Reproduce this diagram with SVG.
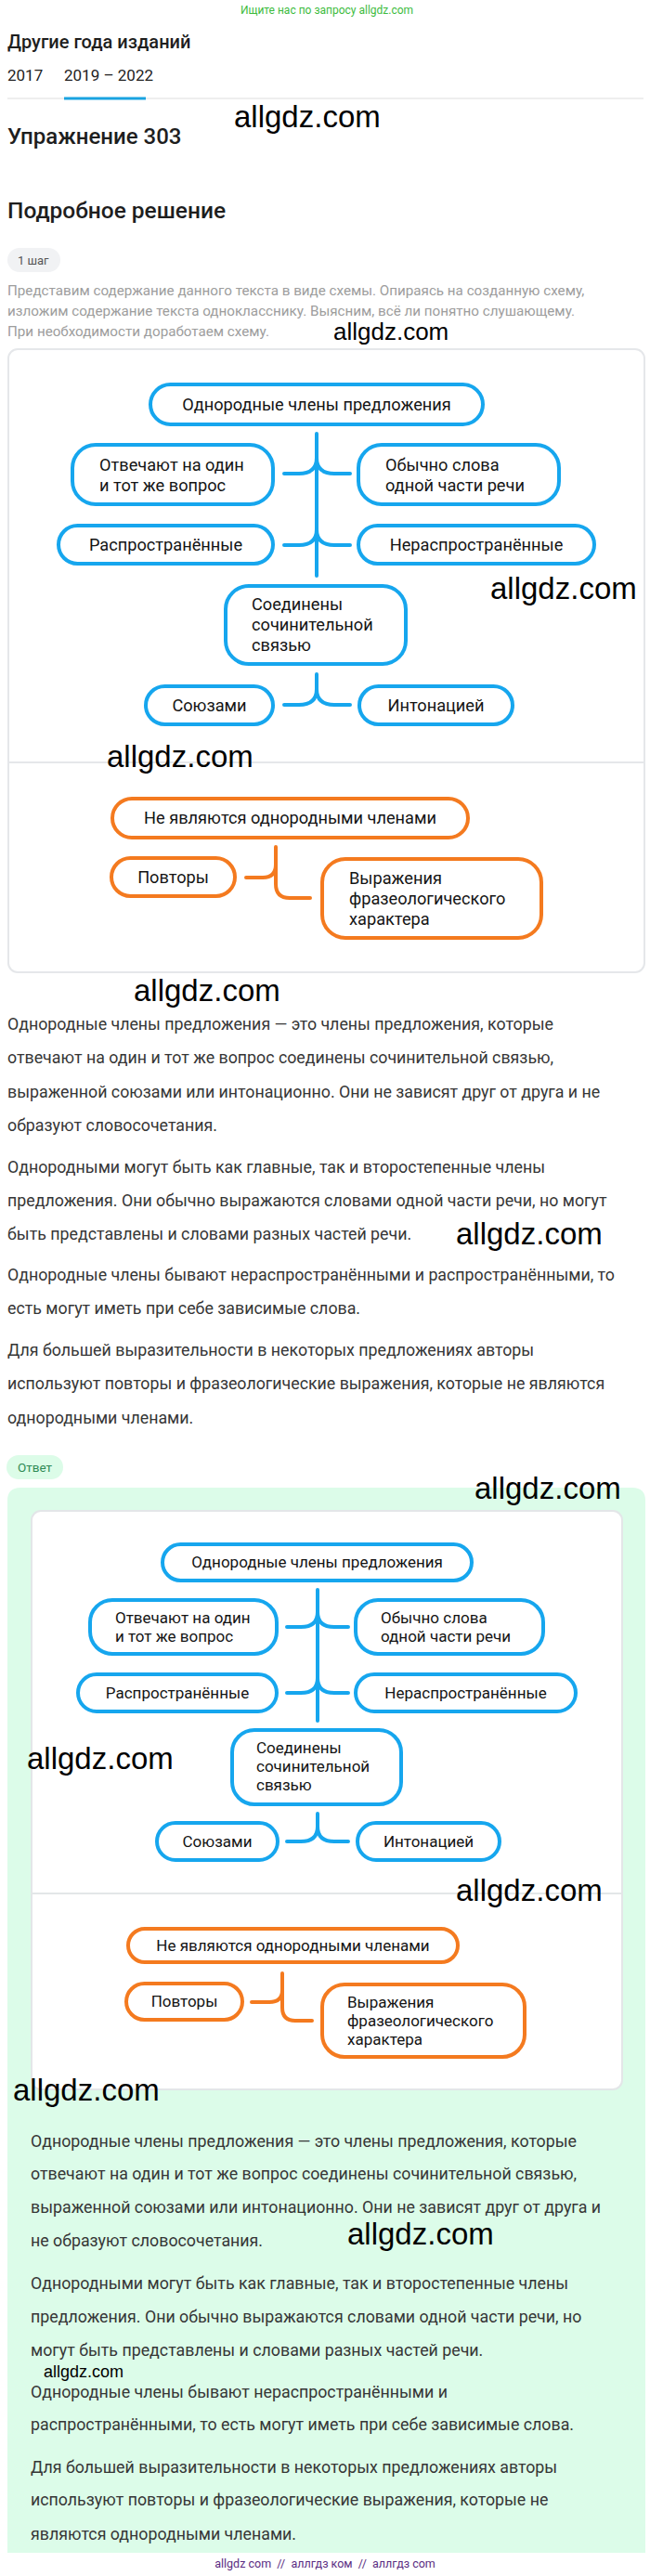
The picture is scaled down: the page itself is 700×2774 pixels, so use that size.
<svg xmlns="http://www.w3.org/2000/svg" width="700" height="2774" viewBox="0 0 700 2774">
<style>
  text{font-family:Roboto,"Noto Sans",sans-serif}
  .wm{font-family:"Liberation Sans",Arial,sans-serif;fill:#000}
  .h{fill:#1e1e1e;font-weight:500}
  .nb{fill:#fff;stroke:#16a6ee;stroke-width:4}
  .no{fill:#fff;stroke:#f47a1f;stroke-width:4}
  .cb{fill:none;stroke:#16a6ee;stroke-width:4;stroke-linecap:round}
  .co{fill:none;stroke:#f47a1f;stroke-width:4;stroke-linecap:round}
  .t1{font-size:18.2px;fill:#141414}
  .t2{font-size:17px;fill:#141414}
  .c{text-anchor:middle}
  .p{font-size:17.8px;fill:#363636}
  .g{font-size:15.2px;fill:#9d9d9d}
</style>
<rect width="700" height="2774" fill="#fff"/>

<!-- header -->
<text x="352" y="15" class="c" font-size="12" fill="#3dbb3d">Ищите нас по запросу allgdz.com</text>
<text x="8" y="52" class="h" font-size="20">Другие года изданий</text>
<text x="8" y="87" font-size="17" fill="#222">2017</text>
<text x="69" y="87" font-size="17" fill="#222">2019 – 2022</text>
<line x1="8" y1="106" x2="693" y2="106" stroke="#e8e8e8" stroke-width="1.5"/>
<rect x="69" y="104.5" width="88" height="3" fill="#1aa3e0"/>
<text x="8" y="155" class="h" font-size="24">Упражнение 303</text>
<text x="252" y="137" class="wm" font-size="33">allgdz.com</text>
<text x="8" y="235" class="h" font-size="24.5">Подробное решение</text>
<rect x="8" y="267" width="57" height="26" rx="13" fill="#f1f2f4"/>
<text x="19" y="285" font-size="13" fill="#555">1 шаг</text>
<text x="8" y="318" class="g">Представим содержание данного текста в виде схемы. Опираясь на созданную схему,</text>
<text x="8" y="340" class="g">изложим содержание текста однокласснику. Выясним, всё ли понятно слушающему.</text>
<text x="8" y="362" class="g">При необходимости доработаем схему.</text>
<text x="359" y="366" class="wm" font-size="26">allgdz.com</text>

<!-- diagram 1 -->
<rect x="9" y="376" width="685" height="671" rx="10" fill="#fff" stroke="#e5e7ea" stroke-width="2"/>
<line x1="9" y1="821" x2="694" y2="821" stroke="#e5e7ea" stroke-width="2"/>
<g id="connectors1">
  <path class="cb" d="M341,467 V620"/>
  <path class="cb" d="M306,510 H322 Q341,510 341,493 M377,510 H360 Q341,510 341,493"/>
  <path class="cb" d="M306,587 H322 Q341,587 341,570 M377,587 H360 Q341,587 341,570"/>
  <path class="cb" d="M341,726 V742 Q341,759 322,759 H306 M341,742 Q341,759 360,759 H377"/>
  <path class="co" d="M297,912 V931 Q297,945 283,945 H265 M297,931 V952 Q297,967 312,967 H334"/>
</g>
<g id="d1-top"><rect class="nb" x="162" y="414" width="358" height="43" rx="21.5"/><text class="t1 c" x="341" y="442">Однородные члены предложения</text></g>
<g id="d1-question"><rect class="nb" x="78" y="479" width="216" height="64" rx="25"/><text class="t1" x="107" y="507">Отвечают на один</text><text class="t1" x="107" y="529">и тот же вопрос</text></g>
<g id="d1-part"><rect class="nb" x="386" y="479" width="216" height="64" rx="25"/><text class="t1" x="415" y="507">Обычно слова</text><text class="t1" x="415" y="529">одной части речи</text></g>
<g id="d1-spread"><rect class="nb" x="63" y="566" width="231" height="41" rx="20.5"/><text class="t1 c" x="178.5" y="593">Распространённые</text></g>
<g id="d1-unspread"><rect class="nb" x="386" y="566" width="254" height="41" rx="20.5"/><text class="t1 c" x="513" y="593">Нераспространённые</text></g>
<g id="d1-joined"><rect class="nb" x="243" y="631" width="194" height="84" rx="25"/><text class="t1" x="271" y="657">Соединены</text><text class="t1" x="271" y="679">сочинительной</text><text class="t1" x="271" y="701">связью</text></g>
<g id="d1-unions"><rect class="nb" x="157" y="739" width="137" height="41" rx="20.5"/><text class="t1 c" x="225.5" y="766">Союзами</text></g>
<g id="d1-intonation"><rect class="nb" x="387" y="739" width="165" height="41" rx="20.5"/><text class="t1 c" x="469.5" y="766">Интонацией</text></g>
<g id="d1-not"><rect class="no" x="121" y="860" width="383" height="42" rx="21"/><text class="t1 c" x="312.5" y="887">Не являются однородными членами</text></g>
<g id="d1-repeat"><rect class="no" x="120" y="924" width="133" height="41" rx="20.5"/><text class="t1 c" x="186.5" y="951">Повторы</text></g>
<g id="d1-phrase"><rect class="no" x="347" y="925" width="236" height="85" rx="25"/><text class="t1" x="376" y="952">Выражения</text><text class="t1" x="376" y="974">фразеологического</text><text class="t1" x="376" y="996">характера</text></g>
<text x="528" y="645" class="wm" font-size="33">allgdz.com</text>
<text x="115" y="826" class="wm" font-size="33">allgdz.com</text>

<!-- text 1 -->
<text x="144" y="1078" class="wm" font-size="33">allgdz.com</text>
<text x="8" y="1109" class="p">Однородные члены предложения — это члены предложения, которые</text>
<text x="8" y="1145" class="p">отвечают на один и тот же вопрос соединены сочинительной связью,</text>
<text x="8" y="1182" class="p">выраженной союзами или интонационно. Они не зависят друг от друга и не</text>
<text x="8" y="1218" class="p">образуют словосочетания.</text>
<text x="8" y="1263" class="p">Однородными могут быть как главные, так и второстепенные члены</text>
<text x="8" y="1299" class="p">предложения. Они обычно выражаются словами одной части речи, но могут</text>
<text x="8" y="1335" class="p">быть представлены и словами разных частей речи.</text>
<text x="491" y="1340" class="wm" font-size="33">allgdz.com</text>
<text x="8" y="1379" class="p">Однородные члены бывают нераспространёнными и распространёнными, то</text>
<text x="8" y="1415" class="p">есть могут иметь при себе зависимые слова.</text>
<text x="8" y="1460" class="p">Для большей выразительности в некоторых предложениях авторы</text>
<text x="8" y="1496" class="p">используют повторы и фразеологические выражения, которые не являются</text>
<text x="8" y="1533" class="p">однородными членами.</text>

<!-- answer -->
<rect x="7" y="1567" width="61" height="26" rx="13" fill="#dcfce8"/>
<text x="19" y="1585" font-size="13.5" fill="#2f8a55">Ответ</text>
<path d="M8,1616 Q8,1602 22,1602 H681 Q695,1602 695,1616 V2749 H8 Z" fill="#dcfce9"/>
<rect x="34" y="1627" width="636" height="623" rx="10" fill="#fff" stroke="#e3e6e8" stroke-width="2"/>
<line x1="34" y1="2039" x2="670" y2="2039" stroke="#e3e6e8" stroke-width="2"/>
<g id="connectors2">
  <path class="cb" d="M342,1712 V1853"/>
  <path class="cb" d="M309,1752 H324 Q342,1752 342,1736 M375,1752 H360 Q342,1752 342,1736"/>
  <path class="cb" d="M309,1823 H324 Q342,1823 342,1807 M375,1823 H360 Q342,1823 342,1807"/>
  <path class="cb" d="M342,1953 V1967 Q342,1983 324,1983 H309 M342,1967 Q342,1983 360,1983 H375"/>
  <path class="co" d="M304,2125 V2143 Q304,2156 290,2156 H271 M304,2143 V2162 Q304,2176 318,2176 H336"/>
</g>
<g id="d2-top"><rect class="nb" x="175" y="1663" width="333" height="39" rx="19.5"/><text class="t2 c" x="341.5" y="1688">Однородные члены предложения</text></g>
<g id="d2-question"><rect class="nb" x="97" y="1723" width="201" height="58" rx="24"/><text class="t2" x="124" y="1748">Отвечают на один</text><text class="t2" x="124" y="1768">и тот же вопрос</text></g>
<g id="d2-part"><rect class="nb" x="383" y="1723" width="202" height="58" rx="24"/><text class="t2" x="410" y="1748">Обычно слова</text><text class="t2" x="410" y="1768">одной части речи</text></g>
<g id="d2-spread"><rect class="nb" x="84" y="1803" width="214" height="40" rx="20"/><text class="t2 c" x="191" y="1829">Распространённые</text></g>
<g id="d2-unspread"><rect class="nb" x="383" y="1803" width="237" height="40" rx="20"/><text class="t2 c" x="501.5" y="1829">Нераспространённые</text></g>
<g id="d2-joined"><rect class="nb" x="250" y="1863" width="182" height="80" rx="24"/><text class="t2" x="276" y="1888">Соединены</text><text class="t2" x="276" y="1908">сочинительной</text><text class="t2" x="276" y="1928">связью</text></g>
<g id="d2-unions"><rect class="nb" x="169" y="1963" width="130" height="40" rx="20"/><text class="t2 c" x="234" y="1989">Союзами</text></g>
<g id="d2-intonation"><rect class="nb" x="385" y="1963" width="153" height="40" rx="20"/><text class="t2 c" x="461.5" y="1989">Интонацией</text></g>
<g id="d2-not"><rect class="no" x="138" y="2077" width="355" height="36" rx="18"/><text class="t2 c" x="315.5" y="2101">Не являются однородными членами</text></g>
<g id="d2-repeat"><rect class="no" x="136" y="2136" width="125" height="39" rx="19.5"/><text class="t2 c" x="198.5" y="2161">Повторы</text></g>
<g id="d2-phrase"><rect class="no" x="347" y="2137" width="218" height="78" rx="24"/><text class="t2" x="374" y="2162">Выражения</text><text class="t2" x="374" y="2182">фразеологического</text><text class="t2" x="374" y="2202">характера</text></g>
<text x="511" y="1614" class="wm" font-size="33">allgdz.com</text>
<text x="29" y="1905" class="wm" font-size="33">allgdz.com</text>
<text x="491" y="2047" class="wm" font-size="33">allgdz.com</text>
<text x="14" y="2262" class="wm" font-size="33">allgdz.com</text>

<text x="33" y="2312" class="p">Однородные члены предложения — это члены предложения, которые</text>
<text x="33" y="2347" class="p">отвечают на один и тот же вопрос соединены сочинительной связью,</text>
<text x="33" y="2383" class="p">выраженной союзами или интонационно. Они не зависят друг от друга и</text>
<text x="33" y="2419" class="p">не образуют словосочетания.</text>
<text x="374" y="2417" class="wm" font-size="33">allgdz.com</text>
<text x="33" y="2465" class="p">Однородными могут быть как главные, так и второстепенные члены</text>
<text x="33" y="2501" class="p">предложения. Они обычно выражаются словами одной части речи, но</text>
<text x="33" y="2537" class="p">могут быть представлены и словами разных частей речи.</text>
<text x="47" y="2560" class="wm" font-size="18">allgdz.com</text>
<text x="33" y="2582" class="p">Однородные члены бывают нераспространёнными и</text>
<text x="33" y="2617" class="p">распространёнными, то есть могут иметь при себе зависимые слова.</text>
<text x="33" y="2663" class="p">Для большей выразительности в некоторых предложениях авторы</text>
<text x="33" y="2698" class="p">используют повторы и фразеологические выражения, которые не</text>
<text x="33" y="2735" class="p">являются однородными членами.</text>

<text x="350" y="2765" class="c" font-size="12.5" fill="#5a2d82" xml:space="preserve">allgdz com  //  аллгдз ком  //  аллгдз com</text>
</svg>
